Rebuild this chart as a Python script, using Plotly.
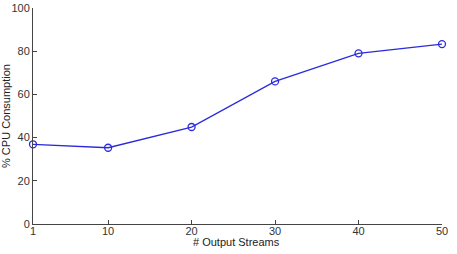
import plotly.graph_objects as go

streams = [1, 10, 20, 30, 40, 50]
cpu = [36.9, 35.3, 44.9, 66.0, 79.0, 83.3]
x_ticks = [1, 10, 20, 30, 40, 50]
y_ticks = [0, 20, 40, 60, 80, 100]

fig = go.Figure()
fig.add_trace(go.Scatter(
    x=streams, y=cpu, mode="lines+markers",
    line=dict(color="#2b2bdc", width=1.3),
    marker=dict(symbol="circle-open", size=7, color="#2b2bdc", line=dict(width=1.3)),
    cliponaxis=False,
))

axis_common = dict(
    showline=True, linecolor="#444", linewidth=1, ticks="inside", ticklen=4,
    tickcolor="#444", showgrid=False, zeroline=False, mirror=False, automargin=False,
    tickfont=dict(family="Liberation Sans, Arial", size=11, color="#333"),
)
fig.update_xaxes(range=[1, 50], tickvals=x_ticks, ticklabelstandoff=-3, **axis_common)
fig.update_yaxes(range=[0, 100], tickvals=y_ticks, **axis_common,
                 title=dict(text="% CPU Consumption", standoff=0,
                            font=dict(family="Liberation Sans, Arial", size=11, color="#222")))
fig.add_annotation(text="# Output Streams", xref="paper", yref="paper",
                   x=0.498, y=-0.082, xanchor="center", yanchor="middle", showarrow=False,
                   font=dict(family="Liberation Sans, Arial", size=11, color="#222"))
fig.update_layout(
    width=457, height=254, margin=dict(l=33, r=15, t=8, b=30),
    plot_bgcolor="white", paper_bgcolor="white", showlegend=False,
)
fig.write_html("out.html")
